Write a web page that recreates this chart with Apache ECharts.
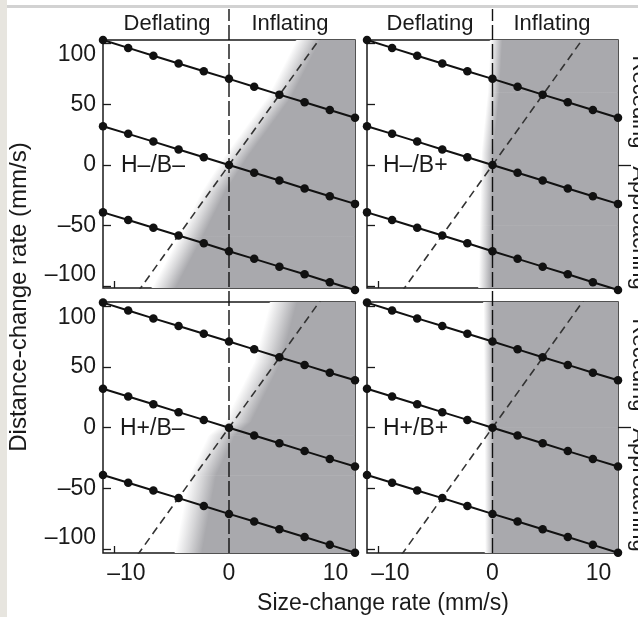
<!DOCTYPE html>
<html><head><meta charset="utf-8">
<script src="https://cdn.jsdelivr.net/npm/echarts@6/dist/echarts.min.js"></script>
<style>html,body{margin:0;padding:0;background:#fff}#c{width:638px;height:617px}</style>
</head><body><div id="c"></div>
<script>
// ---- data ----
const sizeRates  = [-11, -8.8, -6.6, -4.4, -2.2, 0, 2.2, 4.4, 6.6, 8.8, 11];
const upperLine  = [103, 96.5, 90, 83.7, 77.3, 71, 64.5, 58, 51.7, 45.3, 39];
const middleLine = [32, 25.7, 19.3, 12.8, 6.4, 0, -6.4, -12.8, -19.3, -25.7, -32];
const lowerLine  = [-39, -45.3, -51.7, -58, -64.5, -71, -77.3, -83.7, -90, -96.5, -103];
const diagX = [-8, 8];
const diagY = [-105, 105];
// shading boundaries [size-change, distance-change] (middle of the soft edge)
const shadeTL = [[7.1, 106], [4.41, 56], [0.58, 6.6], [-1.42, -23], [-3.33, -59], [-5.85, -104]];
const shadeTR = [[0.35, 106], [0.1, 60], [-0.45, 10], [-0.6, -50], [-0.7, -104]];
const shadeBL = [[4.85, 106], [3.37, 54.1], [0.76, 4.7], [-0.63, -6.3], [-2.29, -39.1], [-3.6, -106]];
const shadeBR = [[-0.4, 106], [-0.3, 0], [-0.25, -106]];
const xTicks = [-10, 0, 10];
const yTicks = [-100, -50, 0, 50, 100];
const zeroLine = [0, 0];
const columnSpan = [0, 1];
const panelNames = ['H–/B–', 'H–/B+', 'H+/B–', 'H+/B+'];
const topLabels = ['Deflating', 'Inflating'];
const sideLabels = ['Receding', 'Approaching'];
const xTitle = 'Size-change rate (mm/s)';
const yTitle = 'Distance-change rate (mm/s)';

// ---- layout / style ----
const FONT = '"Liberation Sans", Arial, Helvetica, sans-serif';
const INK = '#1a1a1a';
const SHADE = '#a9a9ad';
const panels = [
  {grid: {left: 103, top: 40, width: 252, height: 248}, ymin: -101.3, ymax: 103, bottom: false, left: true, shade: shadeTL, gw: 24},
  {grid: {left: 367, top: 40, width: 251, height: 248}, ymin: -101.3, ymax: 103, bottom: false, left: false, shade: shadeTR, gw: 12},
  {grid: {left: 103, top: 302, width: 252, height: 251}, ymin: -103.2, ymax: 103.5, bottom: true, left: true, shade: shadeBL, gw: 27},
  {grid: {left: 367, top: 302, width: 251, height: 251}, ymin: -103.2, ymax: 103.5, bottom: true, left: false, shade: shadeBR, gw: 9}
];
const fmt = v => String(v).replace('-', '–');
const fmtX = v => v < 0 ? '{l|' + fmt(v) + '}' : v > 0 ? '{r|' + fmt(v) + '}' : '{c|' + fmt(v) + '}';
const xRich = {l: {padding: [0, 0, 0, 24]}, r: {padding: [0, 16, 0, 0]}, c: {}};

function shadeItem(gw) {
  return function (params, api) {
    const p1 = api.coord([api.value(0), api.value(1)]);
    const p2 = api.coord([api.value(2), api.value(3)]);
    const cs = params.coordSys;
    const xR = cs.x + cs.width + 6;
    const a1 = [p1[0] - gw / 2, p1[1]], a2 = [p2[0] - gw / 2, p2[1]];
    let dx = a2[0] - a1[0], dy = a2[1] - a1[1];
    const L = Math.hypot(dx, dy) || 1; dx /= L; dy /= L;
    let nx = dy, ny = -dx;
    if (nx < 0) { nx = -nx; ny = -ny; }
    const len = gw * nx;
    const grad = {type: 'linear', global: true, x: a1[0], y: a1[1], x2: a1[0] + nx * len, y2: a1[1] + ny * len,
      colorStops: [{offset: 0, color: '#ffffff'}, {offset: 0.5, color: '#d6d6d8'}, {offset: 1, color: SHADE}]};
    return {type: 'polygon', shape: {points: [a1, a2, [xR, a2[1]], [xR, a1[1]]]},
      style: {fill: grad, stroke: grad, lineWidth: 0.6}};
  };
}

const grids = [], xAxes = [], yAxes = [], series = [];
panels.forEach((p, i) => {
  grids.push(Object.assign({show: true, borderColor: INK, borderWidth: 1.5, backgroundColor: 'rgba(0,0,0,0)',
    containLabel: false, outerBoundsMode: 'none'}, p.grid));
  xAxes.push({gridIndex: i, type: 'value', min: -11, max: 11, position: 'bottom',
    axisLine: {show: false, onZero: false}, splitLine: {show: false},
    axisTick: {show: true, inside: true, length: 7, customValues: xTicks, lineStyle: {color: INK, width: 1.3}},
    axisLabel: {show: p.bottom, customValues: xTicks, margin: 9, fontSize: 23, color: INK, fontFamily: FONT,
      formatter: fmtX, rich: xRich}});
  yAxes.push({gridIndex: i, type: 'value', min: p.ymin, max: p.ymax, position: 'left',
    axisLine: {show: false, onZero: false}, splitLine: {show: false},
    axisTick: {show: true, inside: true, length: 8, customValues: yTicks, lineStyle: {color: INK, width: 1.3}},
    axisLabel: {show: p.left, customValues: yTicks, margin: 7, fontSize: 23, color: INK, fontFamily: FONT, formatter: fmt,
      verticalAlignMinLabel: 'bottom', verticalAlignMaxLabel: 'top'}});
});
// column overlays for the full-height x = 0 dashed line
[[103, 252], [367, 251]].forEach((c, k) => {
  grids.push({left: c[0], width: c[1], top: 9, height: 544, show: false, containLabel: false, outerBoundsMode: 'none'});
  xAxes.push({gridIndex: 4 + k, type: 'value', min: -11, max: 11, show: false});
  yAxes.push({gridIndex: 4 + k, type: 'value', min: 0, max: 1, show: false});
});
// right-hand outward separator tick at distance-change 0
[1, 3].forEach(gi => {
  const p = panels[gi];
  yAxes.push({gridIndex: gi, type: 'value', position: 'right', min: p.ymin, max: p.ymax,
    axisLine: {show: false, onZero: false}, splitLine: {show: false}, axisLabel: {show: false},
    axisTick: {show: true, inside: false, length: 13, customValues: [0], lineStyle: {color: INK, width: 1.3}}});
});

panels.forEach((p, i) => {
  const segs = p.shade.slice(0, -1).map((q, j) => [q[0], q[1], p.shade[j + 1][0], p.shade[j + 1][1]]);
  series.push({type: 'custom', xAxisIndex: i, yAxisIndex: i, data: segs, renderItem: shadeItem(p.gw),
    clip: true, z: 1, silent: true});
  series.push({type: 'line', xAxisIndex: i, yAxisIndex: i, data: diagX.map((x, j) => [x, diagY[j]]),
    symbol: 'none', clip: true, z: 2, silent: true,
    lineStyle: {color: '#333', width: 1.6, type: [8, 5]}});
  [upperLine, middleLine, lowerLine].forEach(arr => {
    series.push({type: 'line', xAxisIndex: i, yAxisIndex: i, data: sizeRates.map((x, j) => [x, arr[j]]),
      symbol: 'circle', symbolSize: 8.5, showSymbol: true, clip: false, z: 4, silent: true,
      itemStyle: {color: '#111'}, lineStyle: {color: '#111', width: 2}});
  });
});
[4, 5].forEach(k => {
  series.push({type: 'line', xAxisIndex: k, yAxisIndex: k, data: zeroLine.map((x, j) => [x, columnSpan[j]]),
    symbol: 'none', z: 3, silent: true, lineStyle: {color: '#111', width: 1.4, type: [15, 4]}});
});

const txt = (text, x, y, size, extra) => Object.assign({type: 'text', x: x, y: y, silent: true,
  style: {text: text, fill: INK, font: size + 'px ' + FONT, textAlign: 'center', textVerticalAlign: 'middle'}}, extra || {});
const graphics = [
  {type: 'rect', shape: {x: 0, y: 5, width: 638, height: 3}, style: {fill: '#d2d2d2'}, silent: true, z: 0},
  {type: 'rect', shape: {x: 0, y: 0, width: 7, height: 617}, style: {fill: '#e7e5df'}, silent: true, z: 0},
  txt(topLabels[0], 167, 24, 22), txt(topLabels[1], 290, 24, 22),
  txt(topLabels[0], 430, 24, 22), txt(topLabels[1], 552, 24, 22),
  txt(xTitle, 383, 604, 23),
  txt(yTitle, 19, 297, 24, {rotation: Math.PI / 2}),
  txt(sideLabels[0], 639, 102, 22, {rotation: -Math.PI / 2}),
  txt(sideLabels[1], 639, 228, 22, {rotation: -Math.PI / 2}),
  txt(sideLabels[0], 639, 365, 22, {rotation: -Math.PI / 2}),
  txt(sideLabels[1], 639, 490, 22, {rotation: -Math.PI / 2})
];
[[121, 166], [383, 166], [120, 429], [383, 429]].forEach((pos, i) => {
  graphics.push({type: 'text', x: pos[0], y: pos[1], z: 10, silent: true,
    style: {text: panelNames[i], fill: INK, font: '23px ' + FONT, textAlign: 'left', textVerticalAlign: 'middle'}});
});

const chart = echarts.init(document.getElementById('c'), null, {renderer: 'canvas'});
chart.setOption({animation: false, backgroundColor: '#ffffff', grid: grids, xAxis: xAxes, yAxis: yAxes,
  series: series, graphic: {elements: graphics}});
</script></body></html>
